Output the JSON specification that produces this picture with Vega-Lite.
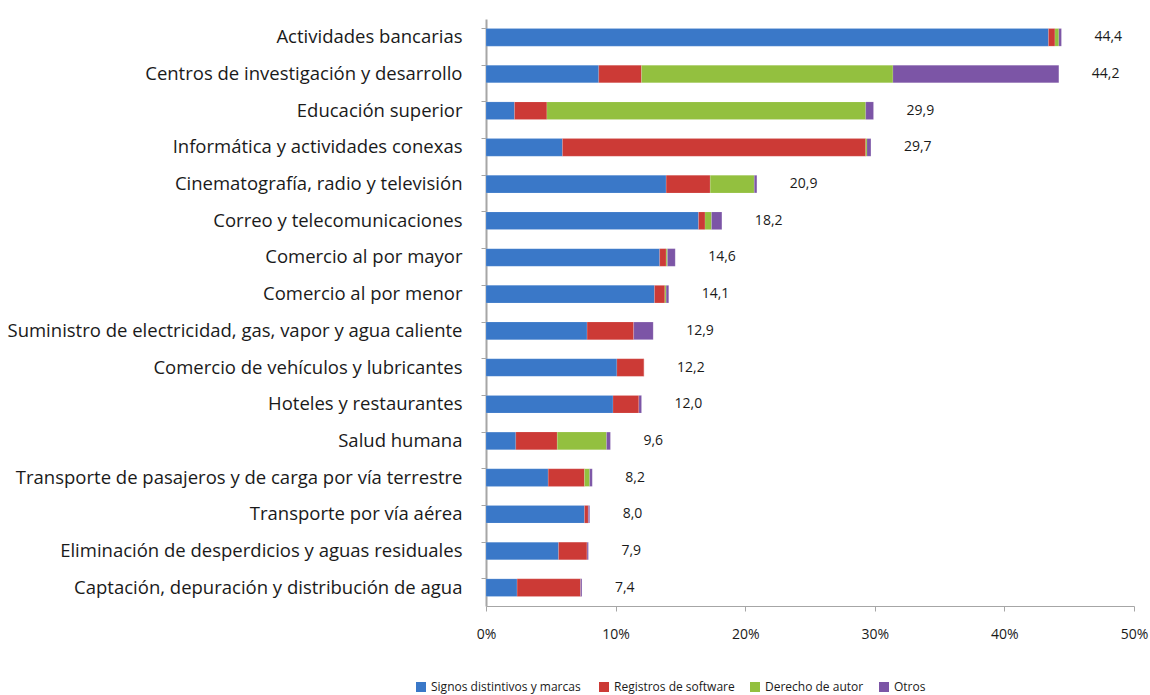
{
  "$schema": "https://vega.github.io/schema/vega-lite/v6.json",
  "width": 648,
  "height": 587,
  "padding": {"left": 5, "top": 19, "right": 10, "bottom": 5},
  "config": {
    "locale": {"number": {"decimal": ",", "thousands": ".", "grouping": [3], "currency": ["", " €"], "percent": "%"}},
    "view": {"stroke": null},
    "font": "Open Sans"
  },
  "data": {"values": [
    {"categoria": "Actividades bancarias", "tipo": "Signos distintivos  y marcas", "valor": 43.4},
    {"categoria": "Actividades bancarias", "tipo": "Registros de software", "valor": 0.5},
    {"categoria": "Actividades bancarias", "tipo": "Derecho de autor", "valor": 0.3},
    {"categoria": "Actividades bancarias", "tipo": "Otros", "valor": 0.2},
    {"categoria": "Centros de investigación y desarrollo", "tipo": "Signos distintivos  y marcas", "valor": 8.7},
    {"categoria": "Centros de investigación y desarrollo", "tipo": "Registros de software", "valor": 3.3},
    {"categoria": "Centros de investigación y desarrollo", "tipo": "Derecho de autor", "valor": 19.4},
    {"categoria": "Centros de investigación y desarrollo", "tipo": "Otros", "valor": 12.8},
    {"categoria": "Educación superior ", "tipo": "Signos distintivos  y marcas", "valor": 2.2},
    {"categoria": "Educación superior ", "tipo": "Registros de software", "valor": 2.5},
    {"categoria": "Educación superior ", "tipo": "Derecho de autor", "valor": 24.6},
    {"categoria": "Educación superior ", "tipo": "Otros", "valor": 0.6},
    {"categoria": "Informática y actividades conexas", "tipo": "Signos distintivos  y marcas", "valor": 5.9},
    {"categoria": "Informática y actividades conexas", "tipo": "Registros de software", "valor": 23.4},
    {"categoria": "Informática y actividades conexas", "tipo": "Derecho de autor", "valor": 0.1},
    {"categoria": "Informática y actividades conexas", "tipo": "Otros", "valor": 0.3},
    {"categoria": "Cinematografía, radio y televisión", "tipo": "Signos distintivos  y marcas", "valor": 13.9},
    {"categoria": "Cinematografía, radio y televisión", "tipo": "Registros de software", "valor": 3.4},
    {"categoria": "Cinematografía, radio y televisión", "tipo": "Derecho de autor", "valor": 3.4},
    {"categoria": "Cinematografía, radio y televisión", "tipo": "Otros", "valor": 0.2},
    {"categoria": "Correo y telecomunicaciones", "tipo": "Signos distintivos  y marcas", "valor": 16.4},
    {"categoria": "Correo y telecomunicaciones", "tipo": "Registros de software", "valor": 0.5},
    {"categoria": "Correo y telecomunicaciones", "tipo": "Derecho de autor", "valor": 0.5},
    {"categoria": "Correo y telecomunicaciones", "tipo": "Otros", "valor": 0.8},
    {"categoria": "Comercio al por mayor", "tipo": "Signos distintivos  y marcas", "valor": 13.4},
    {"categoria": "Comercio al por mayor", "tipo": "Registros de software", "valor": 0.5},
    {"categoria": "Comercio al por mayor", "tipo": "Derecho de autor", "valor": 0.1},
    {"categoria": "Comercio al por mayor", "tipo": "Otros", "valor": 0.6},
    {"categoria": "Comercio al por menor", "tipo": "Signos distintivos  y marcas", "valor": 13.0},
    {"categoria": "Comercio al por menor", "tipo": "Registros de software", "valor": 0.8},
    {"categoria": "Comercio al por menor", "tipo": "Derecho de autor", "valor": 0.1},
    {"categoria": "Comercio al por menor", "tipo": "Otros", "valor": 0.2},
    {"categoria": "Suministro de electricidad, gas, vapor y agua caliente", "tipo": "Signos distintivos  y marcas", "valor": 7.8},
    {"categoria": "Suministro de electricidad, gas, vapor y agua caliente", "tipo": "Registros de software", "valor": 3.6},
    {"categoria": "Suministro de electricidad, gas, vapor y agua caliente", "tipo": "Derecho de autor", "valor": 0.0},
    {"categoria": "Suministro de electricidad, gas, vapor y agua caliente", "tipo": "Otros", "valor": 1.5},
    {"categoria": "Comercio de vehículos y lubricantes", "tipo": "Signos distintivos  y marcas", "valor": 10.1},
    {"categoria": "Comercio de vehículos y lubricantes", "tipo": "Registros de software", "valor": 2.1},
    {"categoria": "Comercio de vehículos y lubricantes", "tipo": "Derecho de autor", "valor": 0.0},
    {"categoria": "Comercio de vehículos y lubricantes", "tipo": "Otros", "valor": 0.0},
    {"categoria": "Hoteles y restaurantes ", "tipo": "Signos distintivos  y marcas", "valor": 9.8},
    {"categoria": "Hoteles y restaurantes ", "tipo": "Registros de software", "valor": 2.0},
    {"categoria": "Hoteles y restaurantes ", "tipo": "Derecho de autor", "valor": 0.0},
    {"categoria": "Hoteles y restaurantes ", "tipo": "Otros", "valor": 0.2},
    {"categoria": "Salud humana", "tipo": "Signos distintivos  y marcas", "valor": 2.3},
    {"categoria": "Salud humana", "tipo": "Registros de software", "valor": 3.2},
    {"categoria": "Salud humana", "tipo": "Derecho de autor", "valor": 3.8},
    {"categoria": "Salud humana", "tipo": "Otros", "valor": 0.3},
    {"categoria": "Transporte  de pasajeros  y de carga por vía terrestre", "tipo": "Signos distintivos  y marcas", "valor": 4.8},
    {"categoria": "Transporte  de pasajeros  y de carga por vía terrestre", "tipo": "Registros de software", "valor": 2.8},
    {"categoria": "Transporte  de pasajeros  y de carga por vía terrestre", "tipo": "Derecho de autor", "valor": 0.4},
    {"categoria": "Transporte  de pasajeros  y de carga por vía terrestre", "tipo": "Otros", "valor": 0.2},
    {"categoria": "Transporte por vía aérea", "tipo": "Signos distintivos  y marcas", "valor": 7.6},
    {"categoria": "Transporte por vía aérea", "tipo": "Registros de software", "valor": 0.3},
    {"categoria": "Transporte por vía aérea", "tipo": "Derecho de autor", "valor": 0.0},
    {"categoria": "Transporte por vía aérea", "tipo": "Otros", "valor": 0.1},
    {"categoria": "Eliminación de desperdicios y aguas residuales", "tipo": "Signos distintivos  y marcas", "valor": 5.6},
    {"categoria": "Eliminación de desperdicios y aguas residuales", "tipo": "Registros de software", "valor": 2.2},
    {"categoria": "Eliminación de desperdicios y aguas residuales", "tipo": "Derecho de autor", "valor": 0.0},
    {"categoria": "Eliminación de desperdicios y aguas residuales", "tipo": "Otros", "valor": 0.1},
    {"categoria": "Captación, depuración y distribución de agua", "tipo": "Signos distintivos  y marcas", "valor": 2.4},
    {"categoria": "Captación, depuración y distribución de agua", "tipo": "Registros de software", "valor": 4.9},
    {"categoria": "Captación, depuración y distribución de agua", "tipo": "Derecho de autor", "valor": 0.0},
    {"categoria": "Captación, depuración y distribución de agua", "tipo": "Otros", "valor": 0.1}
  ]},
  "transform": [
    {"calculate": "indexof(['Signos distintivos  y marcas','Registros de software','Derecho de autor','Otros'], datum.tipo)", "as": "orden"}
  ],
  "encoding": {
    "y": {
      "field": "categoria", "type": "nominal",
      "sort": ["Actividades bancarias", "Centros de investigación y desarrollo", "Educación superior ", "Informática y actividades conexas", "Cinematografía, radio y televisión", "Correo y telecomunicaciones", "Comercio al por mayor", "Comercio al por menor", "Suministro de electricidad, gas, vapor y agua caliente", "Comercio de vehículos y lubricantes", "Hoteles y restaurantes ", "Salud humana", "Transporte  de pasajeros  y de carga por vía terrestre", "Transporte por vía aérea", "Eliminación de desperdicios y aguas residuales", "Captación, depuración y distribución de agua"],
      "scale": {"paddingInner": 0.52, "paddingOuter": 0.26},
      "axis": {"title": null, "labelFontSize": 18.5, "labelColor": "#1a1a1a", "labelPadding": 19, "labelLimit": 600,
               "domainColor": "#a6a6a6", "domainWidth": 2, "tickColor": "#a6a6a6", "tickSize": 5, "ticks": true, "bandPosition": 0}
    }
  },
  "layer": [
    {
      "mark": {"type": "bar", "stroke": "#ffffff", "strokeOpacity": 0.25, "strokeWidth": 0.5},
      "encoding": {
        "x": {"field": "valor", "type": "quantitative", "stack": "zero",
              "scale": {"domain": [0, 50], "nice": false},
              "axis": {"title": null, "values": [0, 10, 20, 30, 40, 50], "labelExpr": "datum.value + '%'",
                       "grid": false, "labelFlush": false, "labelFontSize": 14, "labelColor": "#1a1a1a", "labelPadding": 16,
                       "domainColor": "#a6a6a6", "tickColor": "#a6a6a6", "tickSize": 5}},
        "color": {"field": "tipo", "type": "nominal",
                  "scale": {"domain": ["Signos distintivos  y marcas", "Registros de software", "Derecho de autor", "Otros"],
                            "range": ["#3a78c8", "#cc3a36", "#93c03f", "#7c55a6"]},
                  "legend": {"title": null, "orient": "none", "direction": "horizontal", "legendX": -71, "legendY": 662,
                             "symbolType": "square", "symbolSize": 100, "symbolStrokeWidth": 0, "labelFontSize": 12, "labelColor": "#1a1a1a",
                             "columnPadding": 14, "labelLimit": 400}},
        "order": {"field": "orden", "type": "quantitative"}
      }
    },
    {
      "mark": {"type": "text", "align": "left", "dx": 33, "fontSize": 14, "color": "#1a1a1a"},
      "encoding": {
        "x": {"aggregate": "sum", "field": "valor", "type": "quantitative"},
        "text": {"aggregate": "sum", "field": "valor", "type": "quantitative", "format": ".1f"}
      }
    }
  ]
}
